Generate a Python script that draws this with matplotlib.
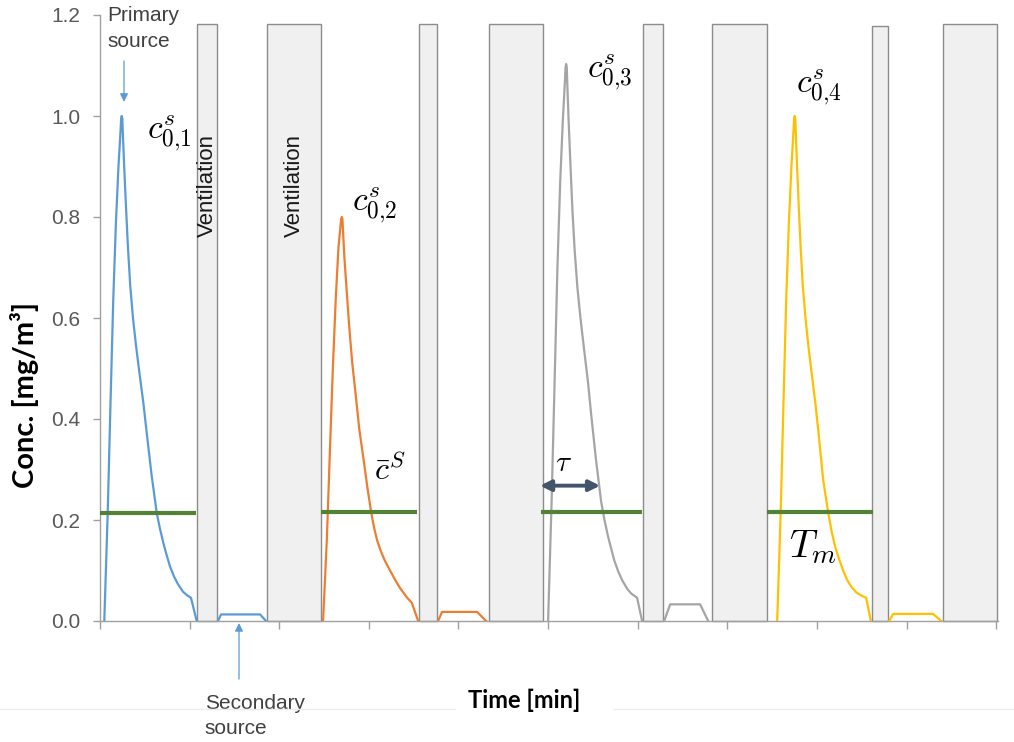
import matplotlib

matplotlib.use("Agg")

import matplotlib.pyplot as plt
from matplotlib.lines import Line2D
from matplotlib.patches import Rectangle

plt.rcParams["font.family"] = ["Liberation Sans", "DejaVu Sans"]
plt.rcParams["mathtext.fontset"] = "cm"

# time [min], concentration [mg/m3]
peak1_t = [0.48, 0.86, 1.17, 1.48, 1.78, 2.06, 2.29, 2.36, 2.42, 2.49, 2.54, 2.70, 2.90, 3.12, 3.37, 3.68,
           4.02, 4.41, 4.85, 5.21, 5.75, 6.33, 6.70, 7.09, 7.48, 7.81, 8.26, 8.70, 9.26, 9.71, 10.15, 10.79]
peak1_c = [0, 0.214, 0.43, 0.637, 0.79, 0.9, 0.97, 0.995, 1.0, 0.995, 0.97, 0.90, 0.82, 0.74, 0.665, 0.60,
           0.545, 0.49, 0.43, 0.373, 0.29, 0.214, 0.182, 0.153, 0.128, 0.108, 0.088, 0.073, 0.058, 0.051, 0.046, 0]

peak2_t = [24.89, 25.31, 25.64, 25.98, 26.31, 26.61, 26.85, 26.92, 26.98, 27.05, 27.11, 27.27, 27.54, 27.82, 28.15, 28.52,
           28.93, 29.41, 29.83, 30.25, 30.58, 30.92, 31.30, 31.72, 32.15, 32.58, 33.01, 33.45, 33.90, 34.23, 34.79, 35.50]
peak2_c = [0, 0.161, 0.33, 0.5, 0.64, 0.74, 0.785, 0.797, 0.8, 0.796, 0.775, 0.72, 0.65, 0.58, 0.51, 0.45,
           0.38, 0.32, 0.265, 0.216, 0.185, 0.16, 0.14, 0.122, 0.107, 0.093, 0.079, 0.066, 0.055, 0.047, 0.036, 0]

peak3_t = [50.00, 50.39, 50.72, 51.04, 51.35, 51.64, 51.88, 51.95, 52.01, 52.08, 52.13, 52.29, 52.49, 52.71, 52.96, 53.27,
           53.61, 54.00, 54.44, 54.80, 55.34, 55.92, 56.29, 56.68, 57.07, 57.40, 57.85, 58.29, 58.85, 59.30, 59.93, 60.49]
peak3_c = [0, 0.236, 0.47, 0.70, 0.87, 0.99, 1.07, 1.097, 1.103, 1.097, 1.07, 0.99, 0.905, 0.815, 0.735, 0.66,
           0.60, 0.54, 0.475, 0.41, 0.32, 0.236, 0.2, 0.168, 0.141, 0.119, 0.097, 0.08, 0.063, 0.054, 0.046, 0]

peak4_t = [75.56, 75.95, 76.26, 76.57, 76.87, 77.15, 77.38, 77.45, 77.51, 77.58, 77.63, 77.78, 77.97, 78.18, 78.41, 78.72,
           79.04, 79.41, 79.83, 80.19, 80.69, 81.25, 81.64, 82.03, 82.48, 82.92, 83.37, 83.87, 84.43, 84.99, 85.49, 86.01]
peak4_c = [0, 0.214, 0.43, 0.637, 0.79, 0.9, 0.97, 0.995, 1.0, 0.995, 0.97, 0.90, 0.82, 0.74, 0.665, 0.60,
           0.545, 0.49, 0.43, 0.37, 0.28, 0.215, 0.177, 0.147, 0.122, 0.1, 0.081, 0.067, 0.056, 0.05, 0.046, 0]

# secondary source plateaus
sec1_t = [13.17, 13.50, 17.86, 18.53]
sec1_c = [0, 0.013, 0.013, 0]
sec2_t = [37.72, 38.17, 42.08, 43.08]
sec2_c = [0, 0.018, 0.018, 0]
sec3_t = [62.95, 63.62, 66.96, 67.86]
sec3_c = [0, 0.033, 0.033, 0]
sec4_t = [88.06, 88.50, 92.97, 93.86]
sec4_c = [0, 0.014, 0.014, 0]

# ventilation periods
vent_start = [10.83, 18.64, 35.60, 43.42, 60.60, 68.30, 86.16, 94.08]
vent_end = [13.06, 24.67, 37.61, 49.44, 62.83, 74.44, 87.95, 100.1]
vent_top = [1.182, 1.182, 1.182, 1.182, 1.182, 1.182, 1.178, 1.182]

# mean concentration over each measurement period
mean_start = [0.0, 24.67, 49.2, 74.4]
mean_end = [10.71, 35.38, 60.5, 86.2]
mean_level = [0.214, 0.216, 0.216, 0.216]

series_colors = ["#5B9BD5", "#ED7D31", "#A5A5A5", "#FFC000"]
y_ticks = [0.0, 0.2, 0.4, 0.6, 0.8, 1.0, 1.2]
y_tick_labels = ["0.0", "0.2", "0.4", "0.6", "0.8", "1.0", "1.2"]
x_ticks = [0, 10, 20, 30, 40, 50, 60, 70, 80, 90, 100]

fig = plt.figure(figsize=(10.14, 7.42), dpi=100)
ax = fig.add_axes([100 / 1014, 121 / 742, 898 / 1014, 606 / 742])
ax.set_xlim(0, 100.2)
ax.set_ylim(0, 1.2)

for start, end, top in zip(vent_start, vent_end, vent_top):
    ax.add_patch(Rectangle((start, 0), end - start, top, facecolor="#F0F0F0",
                           edgecolor="#8C8C8C", linewidth=1.0, zorder=1, clip_on=False))

peaks = [(peak1_t, peak1_c), (peak2_t, peak2_c), (peak3_t, peak3_c), (peak4_t, peak4_c)]
plateaus = [(sec1_t, sec1_c), (sec2_t, sec2_c), (sec3_t, sec3_c), (sec4_t, sec4_c)]
for (pt, pc), (st, sc), color in zip(peaks, plateaus, series_colors):
    ax.plot(pt, pc, color=color, linewidth=1.6, solid_joinstyle="round", zorder=3)
    ax.plot(st, sc, color=color, linewidth=1.6, solid_joinstyle="round", zorder=3)

for start, end, level in zip(mean_start, mean_end, mean_level):
    ax.plot([start, end], [level, level], color="#548235", linewidth=3.0,
            solid_capstyle="butt", zorder=4)

# vent labels
for i in range(2):
    ax.text((vent_start[i] + vent_end[i]) / 2, 0.863, "Ventilation", rotation=90,
            ha="center", va="center", fontsize=16, color="#1A1A1A", zorder=5)

# math labels
ax.text(7.76, 0.966, r"$c_{0{,}1}^{s}$", fontsize=24, ha="center", va="center")
ax.text(30.64, 0.823, r"$c_{0{,}2}^{s}$", fontsize=24, ha="center", va="center")
ax.text(56.81, 1.087, r"$c_{0{,}3}^{s}$", fontsize=24, ha="center", va="center")
ax.text(80.25, 1.058, r"$c_{0{,}4}^{s}$", fontsize=24, ha="center", va="center")
ax.text(32.3, 0.297, r"$\bar{c}^{S}$", fontsize=23, ha="center", va="center")
ax.text(51.67, 0.313, r"$\tau$", fontsize=21, ha="center", va="center")
ax.text(79.58, 0.147, r"$T_m$", fontsize=28, ha="center", va="center")

ax.annotate("", xy=(55.8, 0.268), xytext=(49.1, 0.268),
            arrowprops=dict(arrowstyle="<|-|>", color="#44546A", lw=2.8, mutation_scale=16,
                            shrinkA=0, shrinkB=0), zorder=6)

# source annotations
ax.text(0.78, 1.174, "Primary\nsource", fontsize=15, color="#404040", ha="left", va="center",
        linespacing=1.45, clip_on=False)
ax.annotate("", xy=(2.68, 1.028), xytext=(2.68, 1.109),
            arrowprops=dict(arrowstyle="-|>", color="#5B9BD5", lw=0.9, mutation_scale=12,
                            shrinkA=0, shrinkB=0))
ax.text(11.7, -0.188, "Secondary\nsource", fontsize=15, color="#404040", ha="left", va="center",
        linespacing=1.45, clip_on=False)
ax.annotate("", xy=(15.51, -0.004), xytext=(15.51, -0.115),
            arrowprops=dict(arrowstyle="-|>", color="#5B9BD5", lw=0.9, mutation_scale=12,
                            shrinkA=0, shrinkB=0), annotation_clip=False)

ax.set_yticks(y_ticks)
ax.set_yticklabels(y_tick_labels)
ax.set_xticks(x_ticks)
ax.set_xticklabels([])
ax.tick_params(axis="y", direction="out", length=5, width=1, color="#A0A0A0",
               labelsize=15, labelcolor="#595959", pad=9)
ax.tick_params(axis="x", direction="out", length=6, width=1, color="#A0A0A0")
for side in ["top", "right"]:
    ax.spines[side].set_visible(False)
for side in ["left", "bottom"]:
    ax.spines[side].set_color("#A0A0A0")
    ax.spines[side].set_linewidth(1.0)

fig.text(25 / 1014, 1 - 395 / 742, "Conc. [mg/m³]", rotation=90, ha="center", va="center",
         fontsize=21, fontweight="bold", family=["Lato", "DejaVu Sans"])
fig.text(524 / 1014, 1 - 700 / 742, "Time [min]", ha="center", va="center",
         fontsize=17, fontweight="bold", family=["Lato", "DejaVu Sans"])

# faint frame line of the original composite
fig.add_artist(Line2D([0, 455 / 1014], [1 - 709 / 742] * 2, color="#ECECEC", lw=1))
fig.add_artist(Line2D([613 / 1014, 1], [1 - 709 / 742] * 2, color="#ECECEC", lw=1))

fig.savefig("out.png", dpi=100)
plt.close(fig)
